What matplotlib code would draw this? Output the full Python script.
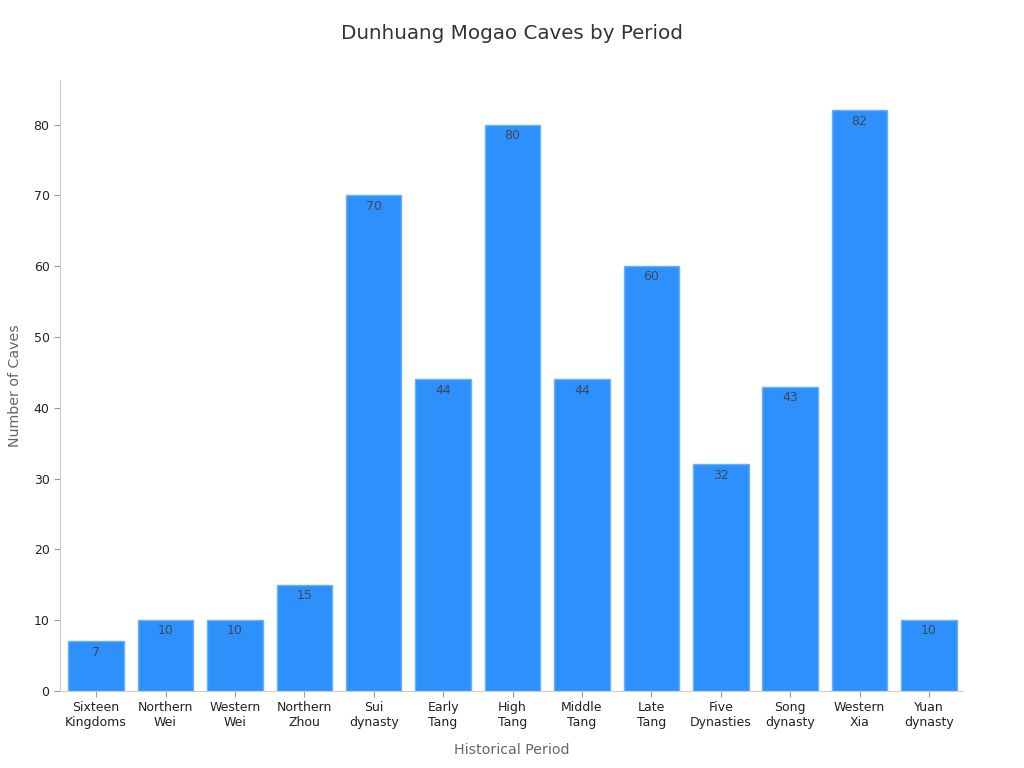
import matplotlib
matplotlib.use("Agg")
import matplotlib.pyplot as plt

periods = [
    "Sixteen\nKingdoms", "Northern\nWei", "Western\nWei", "Northern\nZhou",
    "Sui\ndynasty", "Early\nTang", "High\nTang", "Middle\nTang", "Late\nTang",
    "Five\nDynasties", "Song\ndynasty", "Western\nXia", "Yuan\ndynasty",
]
caves = [7, 10, 10, 15, 70, 44, 80, 44, 60, 32, 43, 82, 10]

BAR = "#2E90FA"
EDGE = "#6AB0FB"
SPINE = "#CCCCCC"

plt.rcParams["font.family"] = ["DejaVu Sans"]

fig = plt.figure(figsize=(10.24, 7.68), dpi=100, facecolor="white")
ax = fig.add_axes([0.0586, 0.1003, 0.8818, 0.7955])

x = list(range(len(periods)))
ax.bar(x, caves, width=0.8, color=BAR, edgecolor=EDGE, linewidth=1)
for xi, v in zip(x, caves):
    ax.text(xi, v - 0.6, str(v), ha="center", va="top", fontsize=9, color="#3A4A5C")

ax.set_xlim(-0.52, 12.49)
ax.set_ylim(0, 86.3)
ax.set_xticks(x)
ax.set_xticklabels(periods, fontsize=9, color="#222222")
ax.set_yticks(range(0, 81, 10))
ax.tick_params(axis="y", labelsize=9, colors="#222222")
ax.tick_params(color="#999999", length=4)

for s in ["top", "right"]:
    ax.spines[s].set_visible(False)
for s in ["left", "bottom"]:
    ax.spines[s].set_color(SPINE)

ax.set_xlabel("Historical Period", fontsize=10.2, color="#666666", labelpad=10)
ax.set_ylabel("Number of Caves", fontsize=10.2, color="#666666", labelpad=8)
fig.suptitle("Dunhuang Mogao Caves by Period", fontsize=14.3, color="#333333", y=0.969)

fig.savefig("out.png", dpi=100)
plt.close(fig)
